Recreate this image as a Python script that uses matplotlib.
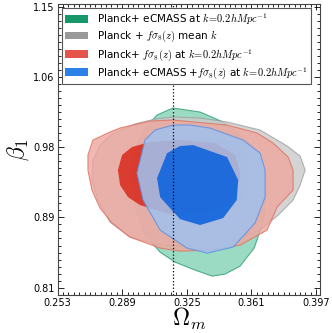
import matplotlib
matplotlib.use("Agg")
import matplotlib.pyplot as plt
from matplotlib.patches import Polygon, Patch
from matplotlib.ticker import FixedLocator, FixedFormatter, AutoMinorLocator

plt.rcParams['mathtext.fontset'] = 'cm'
plt.rcParams['font.family'] = ['DejaVu Sans']

# ---- data (Omega_m, beta_1) contour boundaries ----
green_2s_om = [0.3173, 0.3324, 0.3452, 0.3547, 0.3630, 0.3675, 0.3692, 0.3675, 0.3625, 0.3547,
               0.3463, 0.3391, 0.3296, 0.3184, 0.3101, 0.3017, 0.2967, 0.2944, 0.2961, 0.3017, 0.3084]
green_2s_b1 = [1.0276, 1.0227, 1.0106, 0.9948, 0.9767, 0.9524, 0.9221, 0.8894, 0.8579, 0.8361,
               0.8264, 0.8239, 0.8312, 0.8409, 0.8530, 0.8736, 0.9039, 0.9403, 0.9767, 1.0033, 1.0191]

gray_2s_om = [0.3173, 0.3324, 0.3474, 0.3658, 0.3809, 0.3881, 0.3909, 0.3881, 0.3842, 0.3759, 0.3658,
              0.3491, 0.3268, 0.3101, 0.2933, 0.2822, 0.2755, 0.2721, 0.2727, 0.2766, 0.2833, 0.2961, 0.3073]
gray_2s_b1 = [1.0167, 1.0155, 1.0106, 1.0009, 0.9815, 0.9694, 0.9524, 0.9342, 0.9161, 0.8979, 0.8797,
              0.8664, 0.8603, 0.8615, 0.8712, 0.8894, 0.9161, 0.9403, 0.9645, 0.9827, 0.9961, 1.0082, 1.0142]
gray_1s_om = [0.3268, 0.3463, 0.3575, 0.3597, 0.3564, 0.3463, 0.3296, 0.3128, 0.3017, 0.2978, 0.3034, 0.3128]
gray_1s_b1 = [0.9924, 0.9888, 0.9742, 0.9464, 0.9161, 0.9003, 0.8930, 0.8979, 0.9161, 0.9427, 0.9706, 0.9864]

red_2s_om = [0.3173, 0.3045, 0.2877, 0.2822, 0.2727, 0.2699, 0.2699, 0.2721, 0.2766, 0.2833, 0.2933,
             0.3101, 0.3212, 0.3379, 0.3547, 0.3697, 0.3753, 0.3842, 0.3842, 0.3814, 0.3731, 0.3641, 0.3474]
red_2s_b1 = [1.0130, 1.0118, 1.0033, 0.9985, 0.9888, 0.9706, 0.9524, 0.9282, 0.9064, 0.8882, 0.8712,
             0.8579, 0.8542, 0.8555, 0.8615, 0.8797, 0.9076, 0.9282, 0.9524, 0.9682, 0.9851, 0.9973, 1.0070]
red_1s_om = [0.2866, 0.2889, 0.2944, 0.3045, 0.3212, 0.3407, 0.3520, 0.3550, 0.3510, 0.3379,
             0.3156, 0.2989, 0.2922, 0.2878]
red_1s_b1 = [0.9524, 0.9706, 0.9803, 0.9864, 0.9888, 0.9851, 0.9706, 0.9464, 0.9161, 0.9003,
             0.8991, 0.9100, 0.9197, 0.9342]

blue_2s_om = [0.3268, 0.3379, 0.3563, 0.3658, 0.3686, 0.3686, 0.3630, 0.3508, 0.3363, 0.3251,
              0.3101, 0.3006, 0.2972, 0.3017, 0.3073, 0.3173]
blue_2s_b1 = [1.0070, 1.0033, 0.9888, 0.9730, 0.9524, 0.9197, 0.8882, 0.8591, 0.8518, 0.8579,
              0.8797, 0.9161, 0.9488, 0.9888, 1.0009, 1.0070]
blue_1s_om = [0.3285, 0.3474, 0.3536, 0.3528, 0.3452, 0.3324, 0.3212, 0.3101, 0.3084, 0.3140, 0.3212]
blue_1s_b1 = [0.9827, 0.9682, 0.9403, 0.9161, 0.8942, 0.8858, 0.8930, 0.9197, 0.9427, 0.9730, 0.9815]

omega_m_ref = 0.3175

labels = [r'Planck+ eCMASS at $k\!=\!0.2hMpc^{-1}$',
          r'Planck + $f\sigma_8(z)$ mean $k$',
          r'Planck+ $f\sigma_8(z)$ at $k\!=\!0.2hMpc^{-1}$',
          r'Planck+ eCMASS +$f\sigma_8(z)$ at $k\!=\!0.2hMpc^{-1}$']

xticks = [0.253, 0.289, 0.325, 0.361, 0.397]
xticklabels = ['0.253', '0.289', '0.325', '0.361', '0.397']
yticks = [0.81, 0.895, 0.98, 1.065, 1.15]
yticklabels = ['0.81', '0.89', '0.98', '1.06', '1.15']

# ---- figure ----
fig = plt.figure(figsize=(3.32, 3.33), dpi=100)
ax = fig.add_axes([0.1735, 0.114, 0.7905, 0.874])


def add(om, b1, face, edge, alpha, lw=0.8):
    ax.add_patch(Polygon(list(zip(om, b1)), closed=True, facecolor=face, edgecolor='none',
                         alpha=alpha, zorder=2))
    if lw > 0:
        ax.add_patch(Polygon(list(zip(om, b1)), closed=True, facecolor='none', edgecolor=edge,
                             alpha=0.8, lw=lw, zorder=2, joinstyle='round'))


add(green_2s_om, green_2s_b1, '#82d2b4', '#2f9e72', 0.8)
add(gray_2s_om, gray_2s_b1, '#cacaca', '#a0a0a0', 0.8)
add(gray_1s_om, gray_1s_b1, '#9a9a9a', '#9a9a9a', 0.8, lw=0)
add(red_2s_om, red_2s_b1, '#eea79e', '#e07060', 0.8)
add(red_1s_om, red_1s_b1, '#d8281a', '#d8281a', 0.85, lw=0)
add(blue_2s_om, blue_2s_b1, '#a2c0ec', '#5b8fe0', 0.88)
add(blue_1s_om, blue_1s_b1, '#1064dc', '#1064dc', 0.9, lw=0)

ax.axvline(omega_m_ref, color='black', ls=':', lw=0.9, zorder=3)

ax.set_xlim(0.253, 0.3992)
ax.set_ylim(0.801, 1.1536)

ax.xaxis.set_major_locator(FixedLocator(xticks))
ax.xaxis.set_major_formatter(FixedFormatter(xticklabels))
ax.yaxis.set_major_locator(FixedLocator(yticks))
ax.yaxis.set_major_formatter(FixedFormatter(yticklabels))
ax.xaxis.set_minor_locator(AutoMinorLocator(12))
ax.yaxis.set_minor_locator(AutoMinorLocator(10))
ax.tick_params(which='both', direction='in', top=True, right=True, labelsize=7, width=0.6)
ax.tick_params(which='major', length=4, pad=2)
ax.tick_params(which='minor', length=2)
for s in ax.spines.values():
    s.set_linewidth(0.8)
    s.set_color('#444444')

ax.set_xlabel(r'$\Omega_m$', fontsize=17, labelpad=-1)
ax.set_ylabel(r'$\beta_1$', fontsize=17, labelpad=2)

handles = [Patch(facecolor='#16996a'), Patch(facecolor='#999999'),
           Patch(facecolor='#e5554a'), Patch(facecolor='#2a82e6')]
leg = ax.legend(handles, labels, loc='upper left', bbox_to_anchor=(0.016, 0.986),
                fontsize=7.5, fancybox=False, framealpha=1, edgecolor='#555555',
                handlelength=2.2, handleheight=0.75, borderpad=0.3, labelspacing=0.22,
                handletextpad=0.9, borderaxespad=0.0)
leg.get_frame().set_linewidth(0.8)
leg.set_zorder(5)

fig.savefig('out.png', dpi=100)
